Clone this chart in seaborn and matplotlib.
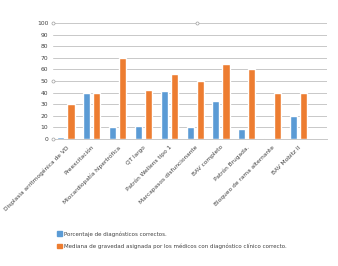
#!/usr/bin/env python3

from matplotlib import pyplot as plt
import pandas as pd
import seaborn as sns

categorias = [
    "Displasia arritmogénica de VD", "Preexcitación",
    "Miocardiopatía hipertrófica", "QT largo", "Patrón Wellens tipo 1",
    "Marcapasos disfuncionante", "BAV completo", "Patrón Brugada.",
    "Bloqueo de rama alternante", "BAV Mobitz II",
]
porcentaje = [2, 40, 10, 11, 41.5, 10, 33, 9, 0.6, 20]
mediana = [30, 40, 70, 42, 56, 50, 65, 60, 40, 40]
series = [
    "Porcentaje de diagnósticos correctos.",
    "Mediana de gravedad asignada por los médicos con diagnóstico clínico correcto.",
]
yticks = list(range(0, 101, 10))


def main():
    df = pd.DataFrame({
        "cat": categorias * 2,
        "valor": porcentaje + mediana,
        "serie": [series[0]] * len(categorias) + [series[1]] * len(categorias),
    })

    sns.set_style("white")
    plt.rcParams["font.family"] = ["DejaVu Sans"]
    fig = plt.figure(figsize=(3.38, 2.66), dpi=100)
    ax = fig.add_axes([0.157, 0.477, 0.81, 0.437])

    sns.barplot(
        data=df, x="cat", y="valor", hue="serie", ax=ax,
        palette=["#5B9BD5", "#ED7D31"], width=0.78, gap=0.3,
        saturation=1, legend=False,
    )
    ax.set_ylim(0, 100)
    ax.set_xlim(-0.5, len(categorias) - 0.5 + 0.6)
    ax.set_yticks(yticks)
    ax.set_yticklabels([str(t) for t in yticks], fontsize=4.3, color="#404040")
    ax.set_xticks(range(len(categorias)))
    ax.set_xticklabels(categorias, rotation=45, ha="right",
                       rotation_mode="anchor", fontsize=4.2, color="#404040")
    ax.tick_params(axis="y", length=0, pad=3.5)
    ax.tick_params(axis="x", length=0, pad=4)
    ax.yaxis.grid(True, color="#c8c8c8", linewidth=0.7)
    ax.set_axisbelow(True)
    for s in ["top", "right", "left"]:
        ax.spines[s].set_visible(False)
    ax.spines["bottom"].set_color("#c8c8c8")
    ax.spines["bottom"].set_linewidth(0.7)
    ax.set_xlabel("")
    ax.set_ylabel("")

    # handles
    for (x, y) in [(0, 1), (0, 0.5), (0, 0), (0.525, 1)]:
        ax.plot(x, y, "o", ms=2.2, mfc="white", mec="#a0a0a0", mew=0.5,
                transform=ax.transAxes, clip_on=False, zorder=5)

    colores = ["#5B9BD5", "#ED7D31"]
    for i, (serie, c) in enumerate(zip(series, colores)):
        y = 0.124 - i * 0.047
        fig.patches.append(plt.Rectangle((0.169, y - 0.011), 0.013, 0.017,
                                         transform=fig.transFigure,
                                         color=c))
        fig.text(0.188, y - 0.003, serie, fontsize=3.95, color="#404040",
                 va="center")

    plt.savefig("out.png", dpi=100)


if __name__ == "__main__":
    main()
